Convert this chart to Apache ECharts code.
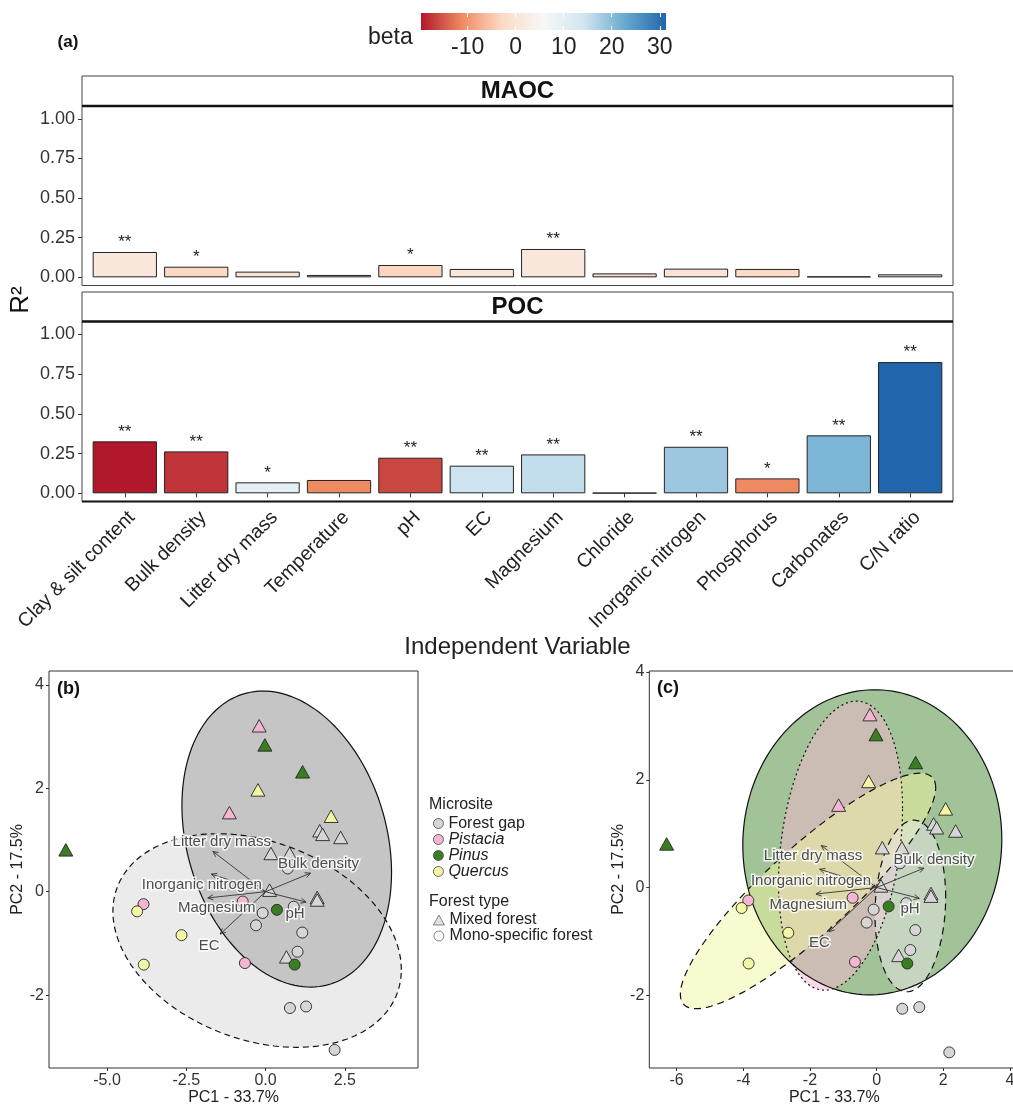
<!DOCTYPE html>
<html><head><meta charset="utf-8">
<script src="https://cdn.jsdelivr.net/npm/echarts@6/dist/echarts.min.js"></script>
<style>html,body{margin:0;padding:0;background:#fff}#c{width:1013px;height:1104px}</style>
</head><body><div id="c"></div>
<script>
// ---------- Panel (a) data ----------
const variables = ['Clay & silt content','Bulk density','Litter dry mass','Temperature','pH','EC','Magnesium','Chloride','Inorganic nitrogen','Phosphorus','Carbonates','C/N ratio'];
const maocR2   = [0.160,0.067,0.036,0.015,0.078,0.053,0.179,0.025,0.055,0.053,0.006,0.019];
const maocBeta = [1.2,-3.0,0.0,0.0,-3.2,0.6,1.2,-2.4,0.0,-2.7,0.0,-0.5];
const maocSig  = ['**','*','','','*','','**','','','','',''];
const pocR2    = [0.327,0.264,0.069,0.084,0.224,0.174,0.245,0.003,0.293,0.094,0.365,0.826];
const pocBeta  = [-19.7,-17.6,9.8,-11.1,-16.2,14.6,15.5,6.0,18.6,-11.2,21.0,31.3];
const pocSig   = ['**','**','*','','**','**','**','','**','*','**','**'];
const r2Ticks  = [0,0.25,0.5,0.75,1];
const betaRange = [-19.7,31.3];
const betaTicks = [-10,0,10,20,30];
const betaPalette = ['#b2182b','#ef8a62','#fddbc7','#f7f7f7','#d1e5f0','#67a9cf','#2166ac'];

// ---------- PCA data (panels b, c) ----------
const pcaPC1 = [-0.20,-0.02,1.17,-0.24,-1.14,2.07,1.71,1.80,2.37,-6.30,0.17,0.76,0.13,1.63,1.63,0.66,
                -3.85,-4.05,-2.65,-3.84,-0.72,-0.65,0.36,-0.09,-0.30,0.89,1.16,1.01,0.92,0.77,1.28,2.18,0.70];
const pcaPC2 = [3.21,2.84,2.32,1.97,1.53,1.46,1.18,1.11,1.05,0.81,0.74,0.74,0.03,-0.11,-0.16,-1.26,
                -0.24,-0.38,-0.84,-1.41,-0.19,-1.38,-0.35,-0.41,-0.65,-0.29,-0.79,-1.16,-1.41,-2.25,-2.22,-3.06,0.45];
const pcaSite = ['Pistacia','Pinus','Pinus','Quercus','Pistacia','Quercus','Forest gap','Forest gap','Forest gap','Pinus','Forest gap','Forest gap','Forest gap','Forest gap','Forest gap','Forest gap',
                 'Pistacia','Quercus','Quercus','Quercus','Pistacia','Pistacia','Pinus','Forest gap','Forest gap','Forest gap','Forest gap','Forest gap','Pinus','Forest gap','Forest gap','Forest gap','Forest gap'];
const pcaForest = ['Mixed forest','Mixed forest','Mixed forest','Mixed forest','Mixed forest','Mixed forest','Mixed forest','Mixed forest','Mixed forest','Mixed forest','Mixed forest','Mixed forest','Mixed forest','Mixed forest','Mixed forest','Mixed forest',
                   'Mono-specific forest','Mono-specific forest','Mono-specific forest','Mono-specific forest','Mono-specific forest','Mono-specific forest','Mono-specific forest','Mono-specific forest','Mono-specific forest','Mono-specific forest','Mono-specific forest','Mono-specific forest','Mono-specific forest','Mono-specific forest','Mono-specific forest','Mono-specific forest','Mono-specific forest'];
const microsites = ['Forest gap','Pistacia','Pinus','Quercus'];
const forestTypes = ['Mixed forest','Mono-specific forest'];

const loadNames = ['Litter dry mass','Bulk density','Inorganic nitrogen','Magnesium','pH','EC'];
const loadX = [-1.66,1.42,-1.71,-1.82,1.28,-1.43];
const loadY = [0.78,0.36,0.34,-0.12,-0.20,-0.82];
const loadOrigin = [0,0];
const bLabelX = [-1.38,1.67,-2.01,-1.54,0.93,-1.78];
const bLabelY = [0.97,0.54,0.13,-0.32,-0.42,-1.05];
const cLabelX = [-1.91,1.72,-1.97,-2.05,1.00,-1.72];
const cLabelY = [0.59,0.51,0.13,-0.32,-0.40,-1.02];

// ellipses: [centerX, centerY, sdX, sdY, correlation]
const ellB = [[-0.265,-0.944,4.549,2.066,-0.273],[0.669,1.019,3.306,2.863,-0.226]]; // Mono-specific, Mixed
const ellC = [[-0.13,0.84,3.885,2.832,0.02],[-1.083,0.778,1.86,2.683,0.258],[-2.058,-0.063,3.83,2.186,0.877],[1.011,-0.342,1.06,1.593,0.10]]; // Pinus, Pistacia, Quercus, Forest gap

const bTicksX = [-5,-2.5,0,2.5], bTicksY = [-2,0,2,4];
const cTicksX = [-6,-4,-2,0,2,4], cTicksY = [-2,0,2,4];

// ---------- styles ----------
const FONT = "'Liberation Sans', Arial, Helvetica, sans-serif";
const siteColor = {'Forest gap':'#d6d6d6','Pistacia':'#f5b6d3','Pinus':'#3b7d23','Quercus':'#f3f6a4'};
const ellBStyle = [
  {fill:'#ebebeb', dash:[6,4]},
  {fill:'#c5c5c5', dash:null}
];
const ellCStyle = [
  {fill:'rgba(58,125,34,0.47)', dash:null},
  {fill:'rgba(244,182,210,0.5)', dash:[2,3]},
  {fill:'rgba(242,245,160,0.5)', dash:[7,5]},
  {fill:'rgba(232,232,232,0.5)', dash:[7,5]}
];

const chart = echarts.init(document.getElementById('c'), null, {renderer:'canvas', width:1013, height:1104});

function ellipsePts(api, e) {
  const pts = [], s = Math.sqrt(1 - e[4]*e[4]), N = 160;
  for (let k = 0; k < N; k++) {
    const t = 2*Math.PI*k/N, u = Math.cos(t), v = Math.sin(t);
    pts.push(api.coord([e[0] + e[2]*u, e[1] + e[3]*(e[4]*u + s*v)]));
  }
  return pts;
}
function ellipseSeries(ells, styles, xi, yi, outline) {
  return {
    type:'custom', xAxisIndex:xi, yAxisIndex:yi, clip:true, silent:true, z: outline ? 3 : 2,
    data: ells.map((e,i)=>[e[0],e[1],i]), encode:{x:0,y:1},
    renderItem: (params, api) => {
      const i = api.value(2), st = styles[i];
      const pts = ellipsePts(api, ells[i]);
      return {type:'polygon', shape:{points:pts},
        style: outline ? {fill:'none', stroke:'#111', lineWidth:1.2, lineDash: st.dash || null}
                       : {fill:st.fill, stroke:'none'}};
    }
  };
}
function pointSeries(site, xi, yi) {
  const data = [];
  pcaPC1.forEach((x,i)=>{
    if (pcaSite[i] === site) {
      const tri = pcaForest[i] === 'Mixed forest';
      data.push({value:[x, pcaPC2[i]], symbol: tri ? 'triangle' : 'circle', symbolSize: tri ? [14,12.5] : 11});
    }
  });
  return {type:'scatter', name:site, xAxisIndex:xi, yAxisIndex:yi, data, silent:true, z:4,
    itemStyle:{color:siteColor[site], borderColor:'#262626', borderWidth:0.9, opacity:1}};
}
function arrowSeries(xi, yi) {
  return {type:'custom', xAxisIndex:xi, yAxisIndex:yi, silent:true, z:5,
    data: loadX.map((x,i)=>[x, loadY[i]]), encode:{x:0,y:1},
    renderItem: (params, api) => {
      const o = api.coord(loadOrigin), p = api.coord([api.value(0), api.value(1)]);
      const ang = Math.atan2(p[1]-o[1], p[0]-o[0]), L = 6, A = Math.PI/7;
      return {type:'group', children:[
        {type:'line', shape:{x1:o[0],y1:o[1],x2:p[0],y2:p[1]}, style:{stroke:'#333', lineWidth:0.9}},
        {type:'polyline', shape:{points:[[p[0]-L*Math.cos(ang-A), p[1]-L*Math.sin(ang-A)], p, [p[0]-L*Math.cos(ang+A), p[1]-L*Math.sin(ang+A)]]},
         style:{stroke:'#333', lineWidth:0.9, fill:'none'}}
      ]};
    }};
}
function labelSeries(lx, ly, xi, yi) {
  return {type:'scatter', xAxisIndex:xi, yAxisIndex:yi, silent:true, z:6, symbolSize:1,
    itemStyle:{color:'transparent', borderWidth:0},
    data: loadNames.map((n,i)=>({name:n, value:[lx[i], ly[i]]})),
    label:{show:true, position:'inside', formatter:'{b}', fontSize:15, color:'#222', fontFamily:FONT,
      textBorderColor:'#fff', textBorderWidth:3}};
}
function barSeries(r2, beta, sig, idx) {
  return {type:'bar', xAxisIndex:idx, yAxisIndex:idx, barCategoryGap:'10%',
    data: variables.map((v,i)=>[v, r2[i], beta[i]]), encode:{x:0, y:1},
    itemStyle:{borderColor:'#222', borderWidth:1},
    label:{show:true, position:'top', distance:1, formatter: p => sig[p.dataIndex], fontSize:17, color:'#222', fontFamily:FONT},
    silent:true};
}

const pcaAxisX = (gi, min, max, ticks, fmt) => ({type:'value', gridIndex:gi, min, max,
  axisLine:{show:false, onZero:false}, splitLine:{show:false},
  axisTick:{show:true, customValues:ticks, length:3, lineStyle:{color:'#333'}},
  axisLabel:{customValues:ticks, formatter:fmt, fontSize:16, color:'#333', margin:5, fontFamily:FONT},
  name:'PC1 - 33.7%', nameLocation:'middle', nameGap:18, nameTextStyle:{fontSize:16, color:'#222', fontFamily:FONT}});
const pcaAxisY = (gi, min, max, ticks) => ({type:'value', gridIndex:gi, min, max,
  axisLine:{show:false, onZero:false}, splitLine:{show:false},
  axisTick:{show:true, customValues:ticks, length:3, lineStyle:{color:'#333'}},
  axisLabel:{customValues:ticks, formatter: v => String(v), fontSize:16, color:'#333', margin:5, fontFamily:FONT},
  name:'PC2 - 17.5%', nameLocation:'middle', nameGap:21, nameTextStyle:{fontSize:16, color:'#222', fontFamily:FONT}});
const r2Axis = gi => ({type:'value', gridIndex:gi, min:-0.0515, max:1.0815, offset:7.1,
  axisLine:{show:false, onZero:false}, splitLine:{show:false},
  axisTick:{show:true, customValues:r2Ticks, length:4, lineStyle:{color:'#333'}},
  axisLabel:{customValues:r2Ticks, formatter: v => v.toFixed(2), fontSize:18, color:'#333', margin:7, fontFamily:FONT}});

const txt = (x, y, text, size, weight, extra) => Object.assign({type:'text', x, y, z:20, silent:true,
  style:{text, fontSize:size, fontWeight:weight||'normal', fontFamily:FONT, fill:'#111', align:'center', verticalAlign:'middle'}}, extra||{});

const option = {
  animation:false,
  backgroundColor:'#fff',
  textStyle:{fontFamily:FONT},
  title:[
    {text:'beta', left:368, top:26, padding:0, textStyle:{fontSize:23, fontWeight:'normal', color:'#222', fontFamily:FONT}},
    {text:'Microsite', left:429, top:797, padding:0, textStyle:{fontSize:16, fontWeight:'normal', color:'#222', fontFamily:FONT}},
    {text:'Forest type', left:429, top:893.5, padding:0, textStyle:{fontSize:16, fontWeight:'normal', color:'#222', fontFamily:FONT}}
  ],
  legend:[
    {orient:'vertical', left:433, top:815.5, padding:0, itemWidth:10, itemHeight:10, itemGap:0, selectedMode:false,
     textStyle:{fontSize:16, color:'#222', lineHeight:15.6, fontFamily:FONT},
     itemStyle:{borderColor:'#444', borderWidth:0.8},
     data:[{name:'Forest gap', icon:'circle'},
           {name:'Pistacia', icon:'circle', textStyle:{fontStyle:'italic'}},
           {name:'Pinus', icon:'circle', textStyle:{fontStyle:'italic'}},
           {name:'Quercus', icon:'circle', textStyle:{fontStyle:'italic'}}]},
    {orient:'vertical', left:433, top:912, padding:0, itemWidth:11, itemHeight:10, itemGap:0, selectedMode:false,
     textStyle:{fontSize:16, color:'#222', lineHeight:15.6, fontFamily:FONT},
     itemStyle:{borderColor:'#444', borderWidth:0.8},
     data:[{name:'Mixed forest', icon:'triangle'}, {name:'Mono-specific forest', icon:'circle'}]}
  ],
  visualMap:{type:'continuous', show:false, seriesIndex:[0,1], dimension:2, min:betaRange[0], max:betaRange[1], inRange:{color:betaPalette}},
  grid:[
    {left:89.1, width:856.8, top:106, height:179.5, outerBoundsMode:'none'},
    {left:89.1, width:856.8, top:321.5, height:180, outerBoundsMode:'none'},
    {left:421, width:245, top:13, height:17, outerBoundsMode:'none'},
    {left:49, top:671, width:369, height:397, show:true, borderColor:'#333', borderWidth:1, backgroundColor:'rgba(0,0,0,0)', outerBoundsMode:'none'},
    {left:649.3, top:671, width:370, height:397, show:true, borderColor:'#333', borderWidth:1, backgroundColor:'rgba(0,0,0,0)', outerBoundsMode:'none'}
  ],
  xAxis:[
    {type:'category', gridIndex:0, data:variables, axisLine:{show:false}, axisTick:{show:false}, axisLabel:{show:false}},
    {type:'category', gridIndex:1, data:variables, axisLine:{show:false},
     axisTick:{show:true, alignWithLabel:true, interval:0, length:4, lineStyle:{color:'#333'}},
     axisLabel:{interval:0, rotate:45, align:'right', verticalAlign:'top', fontSize:19.5, color:'#222', margin:6, fontFamily:FONT},
     name:'Independent Variable', nameLocation:'middle', nameGap:125, nameTextStyle:{fontSize:24, color:'#222', fontFamily:FONT}},
    {type:'value', gridIndex:2, min:betaRange[0], max:betaRange[1], position:'bottom', z:10,
     axisLine:{show:false, onZero:false}, splitLine:{show:false},
     axisTick:{show:true, inside:true, length:4, customValues:betaTicks, lineStyle:{color:'#fff', width:1}},
     axisLabel:{customValues:betaTicks, fontSize:23, color:'#222', margin:6, fontFamily:FONT}},
    {type:'value', gridIndex:2, min:betaRange[0], max:betaRange[1], position:'top', z:10,
     axisLine:{show:false, onZero:false}, splitLine:{show:false}, axisLabel:{show:false},
     axisTick:{show:true, inside:true, length:4, customValues:betaTicks, lineStyle:{color:'#fff', width:1}}},
    pcaAxisX(3, -6.83, 4.81, bTicksX, v => v.toFixed(1)),
    pcaAxisX(4, -6.82, 4.28, cTicksX, v => String(v))
  ],
  yAxis:[
    r2Axis(0), r2Axis(1),
    {type:'value', gridIndex:2, min:0, max:1, show:false},
    pcaAxisY(3, -3.41, 4.27, bTicksY),
    pcaAxisY(4, -3.35, 4.02, cTicksY)
  ],
  series:[
    barSeries(maocR2, maocBeta, maocSig, 0),
    barSeries(pocR2, pocBeta, pocSig, 1),
    {type:'custom', xAxisIndex:2, yAxisIndex:2, silent:true, z:1, data:[[betaRange[0], betaRange[1]]], encode:{x:[0,1]},
     renderItem:(params, api) => {
       const a = api.coord([api.value(0), 1]), b = api.coord([api.value(1), 0]);
       return {type:'rect', shape:{x:a[0], y:a[1], width:b[0]-a[0], height:b[1]-a[1]},
         style:{fill:new echarts.graphic.LinearGradient(0,0,1,0, betaPalette.map((c,i)=>({offset:i/(betaPalette.length-1), color:c})))}};
     }},
    // panel b
    ellipseSeries(ellB, ellBStyle, 4, 3, false),
    ellipseSeries(ellB, ellBStyle, 4, 3, true),
    ...microsites.map(s => pointSeries(s, 4, 3)),
    arrowSeries(4, 3),
    labelSeries(bLabelX, bLabelY, 4, 3),
    {type:'scatter', name:forestTypes[0], xAxisIndex:4, yAxisIndex:3, data:[], symbol:'triangle', itemStyle:{color:'#d9d9d9', borderColor:'#444', borderWidth:0.8}},
    {type:'scatter', name:forestTypes[1], xAxisIndex:4, yAxisIndex:3, data:[], symbol:'circle', itemStyle:{color:'#ffffff', borderColor:'#444', borderWidth:0.8}},
    // panel c
    ellipseSeries(ellC, ellCStyle, 5, 4, false),
    ellipseSeries(ellC, ellCStyle, 5, 4, true),
    ...microsites.map(s => pointSeries(s, 5, 4)),
    arrowSeries(5, 4),
    labelSeries(cLabelX, cLabelY, 5, 4)
  ],
  graphic:[
    {type:'rect', z:1, silent:true, shape:{x:82, y:76, width:871, height:30}, style:{fill:'#fff', stroke:'#444', lineWidth:1}},
    {type:'rect', z:1, silent:true, shape:{x:82, y:106, width:871, height:179.5}, style:{fill:'none', stroke:'#444', lineWidth:1}},
    {type:'line', z:1, silent:true, shape:{x1:82, y1:106, x2:953, y2:106}, style:{stroke:'#111', lineWidth:2.5}},
    {type:'rect', z:1, silent:true, shape:{x:82, y:292, width:871, height:29.5}, style:{fill:'#fff', stroke:'#444', lineWidth:1}},
    {type:'rect', z:1, silent:true, shape:{x:82, y:321.5, width:871, height:180}, style:{fill:'none', stroke:'#444', lineWidth:1}},
    {type:'line', z:1, silent:true, shape:{x1:82, y1:321.5, x2:953, y2:321.5}, style:{stroke:'#111', lineWidth:2.5}},
    {type:'line', z:1, silent:true, shape:{x1:82, y1:501.5, x2:953, y2:501.5}, style:{stroke:'#111', lineWidth:2}},
    txt(517.5, 91, 'MAOC', 24, 'bold'),
    txt(517.5, 307, 'POC', 24, 'bold'),
    txt(68, 42, '(a)', 17, 'bold'),
    txt(68.5, 689, '(b)', 18, 'bold'),
    txt(668, 688, '(c)', 18, 'bold'),
    txt(21, 300, 'R²', 26, 'normal', {rotation:Math.PI/2})
  ]
};
chart.setOption(option);
</script>
</body></html>
